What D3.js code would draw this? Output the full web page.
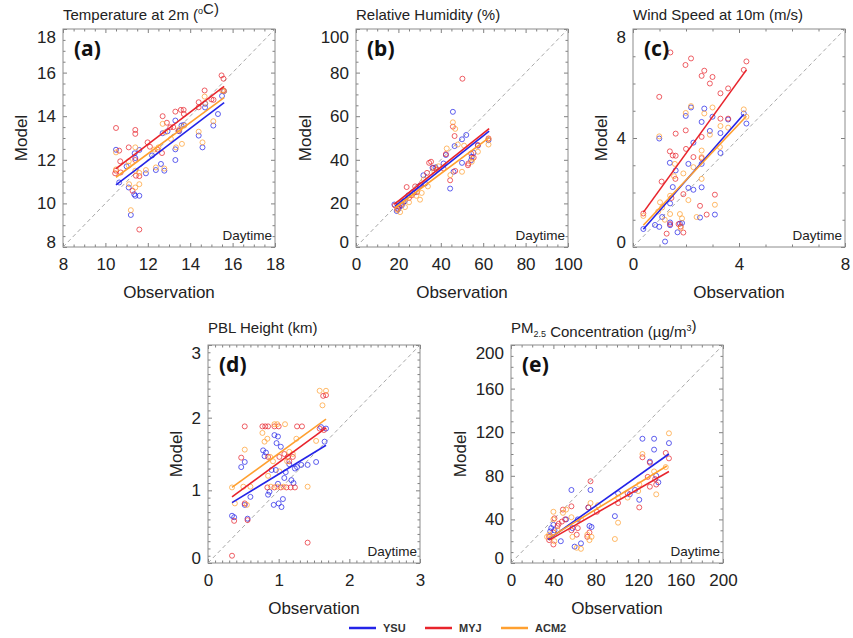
<!DOCTYPE html>
<html>
<head>
<meta charset="utf-8">
<script src="https://cdn.jsdelivr.net/npm/d3@7"></script>
<style>
  body { margin: 0; background: #fff; }
  svg { font-family: 'Liberation Sans', Arial, sans-serif; }
  .tick line { stroke: #808080; }
  .tick text { font-size: 17px; fill: #222; }
  .frame { fill: none; stroke: #8c8c8c; stroke-width: 1; }
  .one-to-one { stroke: #a8a8a8; stroke-dasharray: 4,3; stroke-width: 1; }
  .fit-line { stroke-width: 1.6; fill: none; }
  .obs-dot { fill: none; stroke-width: 1; stroke-opacity: 0.72; }
  .panel-title { font-size: 15px; fill: #222; }
  .axis-title { font-size: 17px; fill: #222; }
  .panel-tag { font-family: 'Noto Sans', 'DejaVu Sans', sans-serif; font-weight: bold; font-size: 21px; fill: #111; }
  .daytime { font-size: 13.5px; fill: #222; }
  .legend text { font-size: 11px; font-weight: bold; fill: #333; }
</style>
</head>
<body>
<svg id="svg" width="853" height="638"></svg>
<script>
const models = ['YSU', 'MYJ', 'ACM2'];
const modelColors = ['#2424e8', '#e8242c', '#ffa030'];

// (a) temperature at 2m, [observation, model]
const tempYSU = [[10.5,12.46],[10.65,10.96],[11.1,10.73],[11.36,10.42],[11.41,10.35],[11.6,10.35],[11.2,9.47],[11.38,12.3],[11.6,12.45],[11.41,12.08],[11.91,11.38],[12.38,11.53],[12.78,11.5],[12.62,11.81],[12.7,13.22],[13.3,13.8],[13.59,13.57],[13.48,13.31],[13.3,12.48],[13.3,11.99],[14.4,13.11],[14.58,12.57],[14.71,14.57],[15.09,13.57],[15.31,14.1],[15.5,14.93],[15.6,15.15],[12.93,13.31],[11.0,11.7],[12.2,12.2],[13.7,13.6],[14.7,14.4]];
const tempMYJ = [[10.5,13.46],[11.41,13.37],[11.41,13.19],[10.7,11.93],[11.1,12.57],[10.5,11.5],[10.46,11.38],[10.72,11.42],[11.6,8.8],[11.28,10.58],[11.44,11.27],[11.6,11.25],[11.99,12.8],[12.7,14.0],[12.9,13.7],[13.3,14.21],[13.56,14.29],[13.69,14.29],[13.7,14.1],[13.45,13.34],[13.06,13.49],[14.68,15.18],[14.4,14.64],[14.4,14.41],[15.0,14.77],[15.1,14.75],[15.48,15.87],[15.57,15.72],[15.56,15.18],[12.46,12.47],[12.67,12.31],[10.65,12.42],[11.41,11.99],[12.1,12.6],[13.2,13.5]];
const tempACM2 = [[10.5,12.34],[11.1,11.93],[11.41,12.57],[11.12,10.88],[11.41,10.73],[11.6,10.88],[11.2,9.69],[11.1,11.73],[11.91,11.53],[11.41,11.5],[12.3,12.47],[12.5,12.57],[12.7,13.65],[12.82,13.26],[13.09,12.96],[13.33,12.57],[13.61,12.73],[13.72,13.57],[14.4,13.29],[14.58,12.8],[14.68,14.9],[15.09,13.77],[15.5,15.18],[15.6,15.15],[12.38,11.65],[12.78,11.6],[10.5,11.56],[11.6,11.4],[13.5,13.4],[14.7,14.6]];
// fitted lines: [x0, y0, x1, y1] for YSU, MYJ, ACM2
const tempFits = [[10.5,10.85,15.6,14.62],[10.5,11.6,15.6,15.37],[10.5,11.2,15.6,14.85]];

// (b) relative humidity
const rhYSU = [[45.7,62.0],[52,51.4],[50,49.4],[46.5,46.3],[42.4,42.2],[44.4,26.8],[55.4,43.2],[54.3,39.8],[50,38.6],[62.5,49],[31.8,32.9],[36.1,36.3],[37.5,36.5],[41.3,38.3],[20,17.5],[21.6,19.1],[19.2,16.5],[32.6,29.1],[24.7,23.7],[54.6,41.4],[22.4,20.6],[18.1,19.5],[27.5,25],[30,28],[46,34.5],[57.5,46.5],[20.5,18.5],[23,21]];
const rhMYJ = [[50.2,77.2],[45.7,55.2],[46.5,50.9],[44.4,30.6],[42.4,42.6],[35.4,39.1],[34.5,38.6],[36.5,36.3],[46.8,34.9],[53,38.3],[54.3,42.9],[55.5,41],[57.5,46.8],[62.5,49.8],[23.9,27.5],[27.9,27.8],[28.7,25.2],[26.3,23.7],[18.4,19.1],[20,18.6],[21.6,19.8],[41.3,36],[52.8,37.5],[38.1,35.5],[33.5,34],[25,22.5],[19.5,17.5],[30.5,28.5]];
const rhACM2 = [[45.7,57.2],[46.8,54.2],[51,46.5],[50,34.5],[54.6,39.1],[57.5,43.7],[62.5,47],[33.9,27.8],[31,24.8],[30.2,21.7],[23.1,18.3],[20.8,16],[19.5,17],[22,21],[28.5,23.5],[42.8,45.2],[39,37],[44.5,33],[55,40.5],[37,34.5],[32,31],[26,24],[20,20],[25,20.5],[62.5,49.5],[48,47]];
const rhFits = [[18.4,18.8,62.8,53.1],[18,19.5,62.8,54.3],[18.4,18,62.8,50.2]];

// (c) wind speed at 10m
const wsYSU = [[2.19,5.12],[2.69,5.08],[1.99,4.81],[0.99,3.98],[3.0,4.78],[2.59,4.59],[2.9,4.26],[3.59,4.68],[3.3,4.18],[4.18,4.9],[4.28,4.53],[3.3,3.45],[2.28,3.83],[1.39,3.09],[1.61,2.81],[2.09,3.05],[2.59,3.05],[2.59,2.19],[2.09,2.17],[2.28,2.1],[1.5,2.2],[1.4,1.6],[0.39,0.66],[0.83,0.81],[0.99,0.74],[1.4,0.9],[1.77,0.86],[1.85,0.88],[2.53,1.08],[3.09,1.19],[1.68,0.54],[1.21,0.2],[1.1,1.1],[1.4,0.8]];
const wsMYJ = [[1.41,7.14],[2.19,6.92],[1.98,6.68],[2.69,6.47],[2.59,6.28],[3.0,6.24],[2.9,6.0],[3.59,5.82],[3.3,5.64],[0.99,5.51],[4.18,6.5],[4.28,6.81],[1.99,4.28],[1.61,4.16],[2.59,4.04],[3.3,4.71],[1.39,3.51],[1.5,3.36],[1.61,3.35],[1.08,2.4],[2.28,3.3],[2.59,3.26],[1.9,1.94],[3.09,1.92],[2.53,1.51],[0.39,1.23],[2.78,1.19],[1.4,0.84],[1.72,0.84],[1.9,0.53],[1.27,0.49],[3.59,4.71],[1.6,2.5],[1.45,1.8],[2.0,3.6],[1.8,0.75]];
const wsACM2 = [[2.19,5.17],[1.99,4.92],[3.0,5.12],[2.69,4.9],[0.99,4.06],[3.59,4.38],[3.3,4.44],[2.9,4.12],[4.18,5.05],[4.28,4.78],[2.59,3.54],[2.59,3.3],[3.28,3.67],[1.58,3.05],[2.28,2.93],[2.59,2.5],[3.09,1.55],[2.09,1.72],[0.39,1.14],[1.02,1.64],[1.4,1.21],[1.77,1.21],[1.85,1.05],[1.1,1.45],[0.95,1.3],[1.2,1.0],[1.4,1.88],[1.9,2.7],[1.55,2.6],[2.4,1.1],[1.8,0.7]];
const wsFits = [[0.39,0.65,4.18,4.87],[0.39,1.27,4.28,6.5],[0.39,0.8,4.28,4.8]];

// (d) PBL height
const pblYSU = [[0.34,0.65],[0.37,0.63],[0.52,0.8],[0.56,0.61],[0.6,0.91],[0.47,1.32],[0.52,1.39],[0.78,1.55],[0.82,1.52],[0.94,1.76],[0.99,1.74],[0.97,1.65],[1.03,1.6],[0.9,1.28],[0.96,1.28],[1.15,1.36],[1.23,1.3],[1.26,1.32],[1.32,1.35],[1.41,1.35],[1.53,1.39],[1.18,1.14],[1.21,1.1],[1.08,1.17],[0.99,1.09],[0.87,0.98],[0.85,0.94],[1.06,0.88],[1.0,0.82],[0.93,0.8],[1.04,0.77],[1.65,1.67],[1.6,1.87],[1.67,1.85],[1.1,1.25],[0.8,1.47]];
const pblMYJ = [[0.34,0.1],[1.41,0.28],[0.52,1.88],[0.77,1.88],[0.81,1.88],[0.85,1.88],[0.94,1.88],[1.0,1.88],[1.26,1.88],[1.33,1.88],[0.47,1.45],[0.52,0.82],[0.56,0.59],[0.37,0.58],[0.84,1.04],[0.94,1.04],[1.03,1.04],[1.11,1.04],[1.17,1.04],[1.23,1.04],[0.85,1.46],[1.01,1.46],[1.13,1.46],[1.2,1.46],[1.63,2.3],[1.67,2.31],[1.58,1.85],[1.64,1.83],[1.08,1.5],[1.15,1.4]];
const pblACM2 = [[0.34,1.04],[0.52,1.56],[0.38,0.82],[0.6,1.05],[0.55,0.8],[0.77,1.79],[0.8,1.67],[0.84,1.71],[0.94,1.91],[0.98,1.91],[1.09,1.91],[0.88,1.46],[0.92,1.4],[1.01,1.26],[1.15,1.53],[1.2,1.5],[1.25,1.71],[1.41,1.05],[1.53,1.68],[1.58,2.37],[1.67,2.37],[1.62,2.17],[0.89,1.05],[0.98,1.05],[0.85,1.2],[1.12,1.4],[1.07,1.05],[0.5,1.05]];
const pblFits = [[0.34,0.83,1.67,1.62],[0.34,0.91,1.67,1.86],[0.34,1.04,1.67,1.98]];

// (e) PM2.5 concentration
const pmYSU = [[124,114],[135,114],[149,110],[135,104],[131,93],[137,80],[57,67],[75,67],[101,64],[121,58],[117,67],[112,63],[98,43],[74,34],[76,33],[73,51],[40,35],[37,29],[47,20],[60,15],[66,18],[38,32],[41,30],[52,40],[58,32],[63,40],[139,74]];
const pmMYJ = [[75,75],[57,52],[49,49],[41,41],[48,38],[51,40],[40,28],[36,21],[40,17],[44,34],[63,32],[62,26],[72,24],[74,28],[73,51],[101,55],[110,64],[121,51],[124,97],[131,92],[146,101],[149,96],[136,77],[137,72],[129,79],[131,70],[81,47],[57,30],[36,24],[45,36]];
const pmACM2 = [[149,119],[124,100],[146,88],[135,84],[137,63],[120,66],[110,60],[101,60],[101,37],[98,22],[75,55],[72,26],[76,24],[74,21],[62,14],[66,13],[58,24],[57,42],[49,46],[40,47],[40,40],[36,26],[34,24],[41,20],[66,40],[82,53],[52,49],[121,72],[44,30]];
const pmFits = [[35,21.5,149,100],[36,21,149,84],[36,23,147,89]];

// titles as [text, 'sup' | 'sub' | '']
const titles = [
  [['Temperature at 2m (', ''], ['o', 'sup'], ['C)', '']],
  [['Relative Humidity (%)', '']],
  [['Wind Speed at 10m (m/s)', '']],
  [['PBL Height (km)', '']],
  [['PM', ''], ['2.5', 'sub'], [' Concentration (\u00b5g/m', ''], ['3', 'sup'], [')', '']]
];
const tags = ['(a)', '(b)', '(c)', '(d)', '(e)'];
const domains = [[8, 18], [0, 100], [0, 8], [0, 3], [0, 200]];
const majorSteps = [2, 20, 4, 1, 40];
const minorSteps = [0.5, 5, 1, 0.1, 10];

const W = 212, H = 218;
const panels = [
  {left: 63, top: 29, titleGap: 9, series: [tempYSU, tempMYJ, tempACM2], fits: tempFits},
  {left: 356, top: 29, titleGap: 9, series: [rhYSU, rhMYJ, rhACM2], fits: rhFits},
  {left: 633, top: 29, titleGap: 9, series: [wsYSU, wsMYJ, wsACM2], fits: wsFits},
  {left: 208, top: 345, titleGap: 12, series: [pblYSU, pblMYJ, pblACM2], fits: pblFits},
  {left: 511, top: 345, titleGap: 12, series: [pmYSU, pmMYJ, pmACM2], fits: pmFits}
];

const svg = d3.select('#svg');
const fmt = d3.format('~g');

function steps(domain, step) {
  const n = Math.round((domain[1] - domain[0]) / step);
  return d3.range(n + 1).map(i => +(domain[0] + i * step).toFixed(6));
}

panels.forEach((p, k) => {
  const domain = domains[k];
  const g = svg.append('g')
      .attr('transform', 'translate(' + p.left + ',' + p.top + ')');

  const x = d3.scaleLinear().domain(domain).range([0, W]);
  const y = d3.scaleLinear().domain(domain).range([H, 0]);

  const major = steps(domain, majorSteps[k]);
  const minor = steps(domain, minorSteps[k]).filter(v => !major.some(m => Math.abs(m - v) < 1e-6));

  // minor ticks, inward on all four sides
  g.append('g').attr('transform', 'translate(0,' + H + ')')
      .call(d3.axisBottom(x).tickValues(minor).tickSize(-2.5).tickFormat(''));
  g.append('g')
      .call(d3.axisTop(x).tickValues(minor).tickSize(-2.5).tickFormat(''));
  g.append('g')
      .call(d3.axisLeft(y).tickValues(minor).tickSize(-2.5).tickFormat(''));
  g.append('g').attr('transform', 'translate(' + W + ',0)')
      .call(d3.axisRight(y).tickValues(minor).tickSize(-2.5).tickFormat(''));

  // major ticks
  g.append('g').attr('transform', 'translate(0,' + H + ')')
      .call(d3.axisBottom(x).tickValues(major).tickSize(-4).tickPadding(11).tickFormat(fmt));
  g.append('g')
      .call(d3.axisTop(x).tickValues(major).tickSize(-4).tickFormat(''));
  const yAxis = g.append('g')
      .call(d3.axisLeft(y).tickValues(major).tickSize(-4).tickPadding(7).tickFormat(fmt));
  g.append('g').attr('transform', 'translate(' + W + ',0)')
      .call(d3.axisRight(y).tickValues(major).tickSize(-4).tickFormat(''));

  // end labels sit a little inside the frame
  yAxis.selectAll('.tick text')
      .attr('y', d => d === domain[1] ? 8 : (d === domain[0] ? -5 : 0));

  g.selectAll('.domain').remove();

  g.append('rect')
      .attr('class', 'frame')
      .attr('width', W)
      .attr('height', H);

  g.append('line')
      .attr('class', 'one-to-one')
      .attr('x1', x(domain[0])).attr('y1', y(domain[0]))
      .attr('x2', x(domain[1])).attr('y2', y(domain[1]));

  p.series.forEach((pts, i) => {
    g.append('g').selectAll('circle')
        .data(pts)
      .enter().append('circle')
        .attr('class', 'obs-dot')
        .attr('cx', d => x(d[0]))
        .attr('cy', d => y(d[1]))
        .attr('r', 2.5)
        .attr('stroke', modelColors[i]);
  });

  p.fits.forEach((f, i) => {
    g.append('line')
        .attr('class', 'fit-line')
        .attr('x1', x(f[0])).attr('y1', y(f[1]))
        .attr('x2', x(f[2])).attr('y2', y(f[3]))
        .attr('stroke', modelColors[i]);
  });

  // title with sub/superscripts
  const title = g.append('text')
      .attr('class', 'panel-title')
      .attr('x', 0)
      .attr('y', -p.titleGap);
  titles[k].forEach(part => {
    const t = title.append('tspan').text(part[0]);
    if (part[1] === 'sup') t.attr('font-size', 9).attr('dy', -6);
    if (part[1] === 'sub') t.attr('font-size', 9).attr('dy', 4);
    if (part[1] !== '') {
      title.append('tspan').attr('dy', part[1] === 'sup' ? 6 : -4).text('');
    }
  });

  g.append('text')
      .attr('class', 'panel-tag')
      .attr('x', 11)
      .attr('y', 27)
      .text(tags[k]);

  g.append('text')
      .attr('class', 'daytime')
      .attr('x', W - 3)
      .attr('y', H - 7)
      .attr('text-anchor', 'end')
      .text('Daytime');

  g.append('text')
      .attr('class', 'axis-title')
      .attr('x', W / 2)
      .attr('y', H + 51)
      .attr('text-anchor', 'middle')
      .text('Observation');

  const labelBox = yAxis.node().getBBox();
  g.append('text')
      .attr('class', 'axis-title')
      .attr('transform', 'translate(' + (labelBox.x - 10) + ',' + (H / 2) + ') rotate(-90)')
      .attr('text-anchor', 'middle')
      .text('Model');
});

// legend
const legend = svg.append('g')
    .attr('class', 'legend')
    .attr('transform', 'translate(349,628)');

models.forEach((m, i) => {
  const item = legend.append('g')
      .attr('transform', 'translate(' + (i * 76) + ',0)');
  item.append('line')
      .attr('x1', 0).attr('x2', 27)
      .attr('stroke', modelColors[i])
      .attr('stroke-width', 2.5);
  item.append('text')
      .attr('x', 34)
      .attr('dy', '0.36em')
      .text(m);
});
</script>
</body>
</html>
